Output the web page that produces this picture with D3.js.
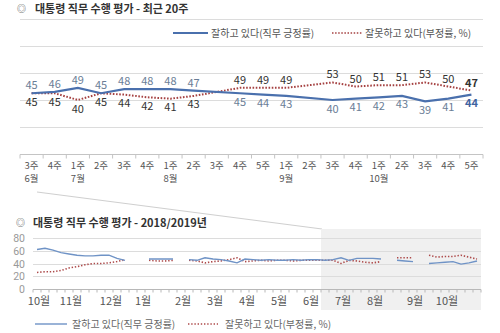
<!DOCTYPE html>
<html><head><meta charset="utf-8">
<script src="https://cdn.jsdelivr.net/npm/d3@7"></script>
<style>
body{margin:0;background:#fff;}
svg{display:block;font-family:"Noto Sans CJK KR","Noto Sans",sans-serif;}
</style>
</head><body>
<svg id="c" width="500" height="333"></svg>
<script>
// ---- recent 20 weeks ----
const weekLabels = ["3주","4주","1주","2주","3주","4주","1주","2주","3주","4주","5주","1주","2주","3주","4주","1주","2주","3주","4주","5주"];
const monthLabels = [[0,"6월"],[2,"7월"],[6,"8월"],[11,"9월"],[15,"10월"]];
const approve    = [45,46,49,45,48,48,48,47,null,45,44,43,null,40,41,42,43,39,41,44];
const disapprove = [45,45,40,45,44,42,41,43,null,49,49,49,null,53,50,51,51,53,50,47];
const topTicks = [20,40,60,80,100];

// ---- 2018/2019 weekly (the 36 weeks before the last 20 weeks) ----
const histApproveEarly = [62,64,61,57, 55,53,52,52,53, 53,48,45,null, null,47,47,47,47, null,46,45,49,47,46,44,41,47,46,45,46,45,45,46,45,46,46];
const histDisapproveEarly = [26,27,27,29, 33,35,38,40,40, 41,43,46,null, null,45,44,44,45, null,45,44,41,43,44,46,49,43,44,45,44,45,45,44,45,45,45];
const histMonths = [[0,"10월"],[4,"11월"],[9,"12월"],[13,"1월"],[18,"2월"],[22,"3월"],[26,"4월"],[30,"5월"],[34,"6월"],[38,"7월"],[42,"8월"],[47,"9월"],[51,"10월"]];
const histTicks = [0,20,40,60,80];

const histA = histApproveEarly.concat(approve);
const histD = histDisapproveEarly.concat(disapprove);
const SPLIT = histApproveEarly.length;

const BLUE = "#4a70ad", RED = "#a54141";
const svg = d3.select("#c");

// ================= TOP CHART =================
svg.append("text").attr("x",17).attr("y",12).attr("font-size",9).attr("fill","#444").text("◎");
svg.append("text").attr("x",35).attr("y",12.5).attr("font-size",11).attr("font-weight","bold").attr("fill","#333")
  .text("대통령 직무 수행 평가 - 최근 20주");

const xT = d3.scaleBand().domain(d3.range(20)).range([20,483]);
const yT = d3.scaleLinear().domain([0,100]).range([154,19]);

svg.append("g").selectAll("line").data(topTicks).join("line")
  .attr("x1",20).attr("x2",483).attr("y1",d=>Math.round(yT(d))+0.5).attr("y2",d=>Math.round(yT(d))+0.5)
  .attr("stroke","#dcdcdc").attr("stroke-width",1);

// axis
const axT = svg.append("g").attr("transform","translate(0,154.5)");
axT.append("line").attr("x1",20).attr("x2",483).attr("stroke","#c4c4c4");
axT.selectAll("line.t").data(d3.range(21)).join("line").attr("class","t")
  .attr("x1",i=>i<20?xT(i):xT.range()[1]).attr("x2",i=>i<20?xT(i):xT.range()[1])
  .attr("y1",0).attr("y2",4).attr("stroke","#c4c4c4");
svg.append("g").selectAll("text").data(weekLabels).join("text")
  .attr("x",(d,i)=>xT(i)+xT.bandwidth()/2).attr("y",168.5).attr("text-anchor","middle")
  .attr("font-size",9.5).attr("fill","#555").text(d=>d);
svg.append("g").selectAll("text").data(monthLabels).join("text")
  .attr("x",d=>xT(d[0])+xT.bandwidth()/2).attr("y",182.4).attr("text-anchor","middle")
  .attr("font-size",9.5).attr("fill","#555").text(d=>d[1]);

// legend
svg.append("line").attr("x1",173).attr("x2",208).attr("y1",33).attr("y2",33).attr("stroke",BLUE).attr("stroke-width",2);
svg.append("text").attr("x",211).attr("y",36.5).attr("font-size",10).attr("fill","#555").text("잘하고 있다(직무 긍정률)");
svg.append("line").attr("x1",332).attr("x2",362).attr("y1",33).attr("y2",33).attr("stroke",RED).attr("stroke-width",1.6).attr("stroke-dasharray","1.5,1.6");
svg.append("text").attr("x",365).attr("y",36.5).attr("font-size",10).attr("fill","#555").text("잘못하고 있다(부정률, %)");

const cx = i => xT(i)+xT.bandwidth()/2;
const topA = approve.map((v,i)=>[i,v]).filter(d=>d[1]!==null);
const topD = disapprove.map((v,i)=>[i,v]).filter(d=>d[1]!==null);
const lineT = d3.line().x(d=>cx(d[0])).y(d=>yT(d[1]));
svg.append("path").attr("d",lineT(topD)).attr("fill","none").attr("stroke",RED).attr("stroke-width",2).attr("stroke-dasharray","1.6,1.6");
svg.append("path").attr("d",lineT(topA)).attr("fill","none").attr("stroke",BLUE).attr("stroke-width",2.2);

// value labels
const labG = svg.append("g").attr("font-size",11).attr("text-anchor","middle");
approve.forEach((a,i)=>{
  const d = disapprove[i];
  if (a===null) return;
  const aUp = a>=d;
  const last = i===approve.length-1;
  const upY = yT(Math.max(a,d))-4, dnY = yT(Math.min(a,d))+12.5;
  labG.append("text").attr("x",cx(i)).attr("y",aUp?upY:dnY)
    .attr("fill",last?"#3f63a0":"#6a7d96").attr("font-weight",last?"bold":null).text(a);
  labG.append("text").attr("x",cx(i)).attr("y",aUp?dnY:upY)
    .attr("fill","#333").attr("font-weight",last?"bold":null).text(d);
});

// connector
svg.append("line").attr("x1",37).attr("y1",192).attr("x2",322).attr("y2",229).attr("stroke","#cfcfcf").attr("stroke-width",1);

// ================= BOTTOM CHART =================
const xB = d3.scaleBand().domain(d3.range(histA.length)).range([33,481]);
const yB = d3.scaleLinear().domain([0,80]).range([289,238]);

svg.append("rect").attr("x",xB(SPLIT)).attr("y",229).attr("width",481-xB(SPLIT)).attr("height",81).attr("fill","#f0f0f0");

svg.append("text").attr("x",16).attr("y",226).attr("font-size",9).attr("fill","#444").text("◎");
svg.append("text").attr("x",33).attr("y",226.5).attr("font-size",11).attr("font-weight","bold").attr("fill","#333")
  .text("대통령 직무 수행 평가 - 2018/2019년");

svg.append("g").selectAll("line").data(histTicks.filter(d=>d>0)).join("line")
  .attr("x1",33).attr("x2",481).attr("y1",d=>Math.round(yB(d))+0.5).attr("y2",d=>Math.round(yB(d))+0.5)
  .attr("stroke","#dcdcdc");
svg.append("g").selectAll("text").data(histTicks).join("text")
  .attr("x",25).attr("y",d=>yB(d)+4).attr("text-anchor","end")
  .attr("font-family","Roboto, 'Noto Sans', sans-serif").attr("font-size",10.5).attr("fill","#999").text(d=>d);

const axB = svg.append("g").attr("transform","translate(0,289.5)");
axB.append("line").attr("x1",33).attr("x2",481).attr("stroke","#b8b8b8");
axB.selectAll("line.t").data(d3.range(histA.length+1)).join("line").attr("class","t")
  .attr("x1",i=>i<histA.length?xB(i):xB.range()[1]).attr("x2",i=>i<histA.length?xB(i):xB.range()[1])
  .attr("y1",0).attr("y2",3).attr("stroke","#b8b8b8");
svg.append("g").selectAll("text").data(histMonths).join("text")
  .attr("x",d=>xB(d[0])+xB.bandwidth()/2+2).attr("y",304.5).attr("text-anchor","middle")
  .attr("font-size",11).attr("fill","#555").text(d=>d[1]);

const lineB = d3.line().defined(d=>d!==null).x((d,i)=>xB(i)+xB.bandwidth()/2).y(d=>yB(d));
svg.append("path").attr("d",lineB(histD)).attr("fill","none").attr("stroke","#ad4a4a").attr("stroke-width",1.6).attr("stroke-dasharray","1.4,1.8");
svg.append("path").attr("d",lineB(histA)).attr("fill","none").attr("stroke","#6f93c6").attr("stroke-width",1.4);

// bottom legend
svg.append("line").attr("x1",35).attr("x2",67).attr("y1",324).attr("y2",324).attr("stroke","#6f93c6").attr("stroke-width",1.4);
svg.append("text").attr("x",72).attr("y",327.5).attr("font-size",10).attr("fill","#666").text("잘하고 있다(직무 긍정률)");
svg.append("line").attr("x1",188).attr("x2",218).attr("y1",324).attr("y2",324).attr("stroke","#ad4a4a").attr("stroke-width",1.6).attr("stroke-dasharray","1.4,1.8");
svg.append("text").attr("x",225).attr("y",327.5).attr("font-size",10).attr("fill","#666").text("잘못하고 있다(부정률, %)");
</script>
</body></html>
